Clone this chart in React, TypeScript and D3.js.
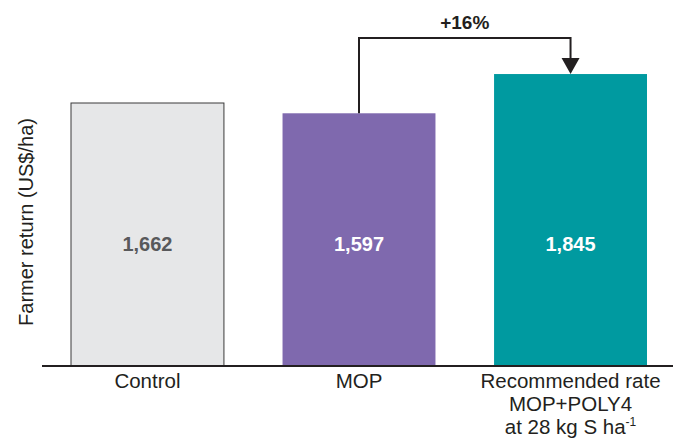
import React from 'react';
import * as d3 from 'd3';

const categories = ['Control', 'MOP', 'Recommended'];
const values = [1662, 1597, 1845];
const valueLabels = ['1,662', '1,597', '1,845'];
const barColors = ['#e6e7e8', '#7f69ae', '#009aa0'];
const labelColors = ['#58595b', '#ffffff', '#ffffff'];
const changeLabel = '+16%';

const W = 673;
const H = 439;
const baseY = 366;
const font = '"Liberation Sans", Arial, Helvetica, sans-serif';

export default function App() {
  const x = d3.scaleBand<string>().domain(categories).range([71, 647]).paddingInner(0.277).paddingOuter(0);
  const y = d3.scaleLinear().domain([0, 1662]).range([baseY, 103]);
  const bw = x.bandwidth();
  const cx = (c: string) => (x(c) as number) + bw / 2;

  const fromX = cx('MOP');
  const toX = cx('Recommended');
  const topY = 38;
  const tipY = y(values[2]);

  return (
    <svg width={W} height={H} style={{ position: 'absolute', left: 0, top: 0, fontFamily: font }}>
      {categories.map((c, i) => (
        <rect
          key={c}
          x={x(c)}
          y={y(values[i])}
          width={bw}
          height={baseY - y(values[i])}
          fill={barColors[i]}
          stroke={i === 0 ? '#3a3a3a' : 'none'}
          strokeWidth={1}
        />
      ))}
      {categories.map((c, i) => (
        <text key={c} x={cx(c)} y={251} textAnchor="middle" fontSize={20} fontWeight="bold" fill={labelColors[i]}>
          {valueLabels[i]}
        </text>
      ))}
      <line x1={42} x2={673} y1={baseY} y2={baseY} stroke="#231f20" strokeWidth={2} />
      <path
        d={`M${fromX},${y(values[1])} V${topY} H${toX} V${tipY - 14}`}
        fill="none"
        stroke="#231f20"
        strokeWidth={2}
      />
      <path d={`M${toX - 9},${tipY - 16} L${toX + 9},${tipY - 16} L${toX},${tipY} Z`} fill="#231f20" />
      <text x={(fromX + toX) / 2} y={29} textAnchor="middle" fontSize={19} fontWeight="bold" fill="#231f20">
        {changeLabel}
      </text>
      <text
        transform={`translate(33,222) rotate(-90)`}
        textAnchor="middle"
        fontSize={20}
        fill="#231f20"
      >
        Farmer return (US$/ha)
      </text>
      <g fontSize={20.5} fill="#231f20" textAnchor="middle">
        <text x={cx('Control')} y={388}>Control</text>
        <text x={cx('MOP')} y={388}>MOP</text>
        <text x={cx('Recommended')} y={388}>Recommended rate</text>
        <text x={cx('Recommended')} y={411}>MOP+POLY4</text>
        <text x={cx('Recommended')} y={434}>
          at 28 kg S ha<tspan fontSize={12} dy={-8}>-1</tspan>
        </text>
      </g>
    </svg>
  );
}
